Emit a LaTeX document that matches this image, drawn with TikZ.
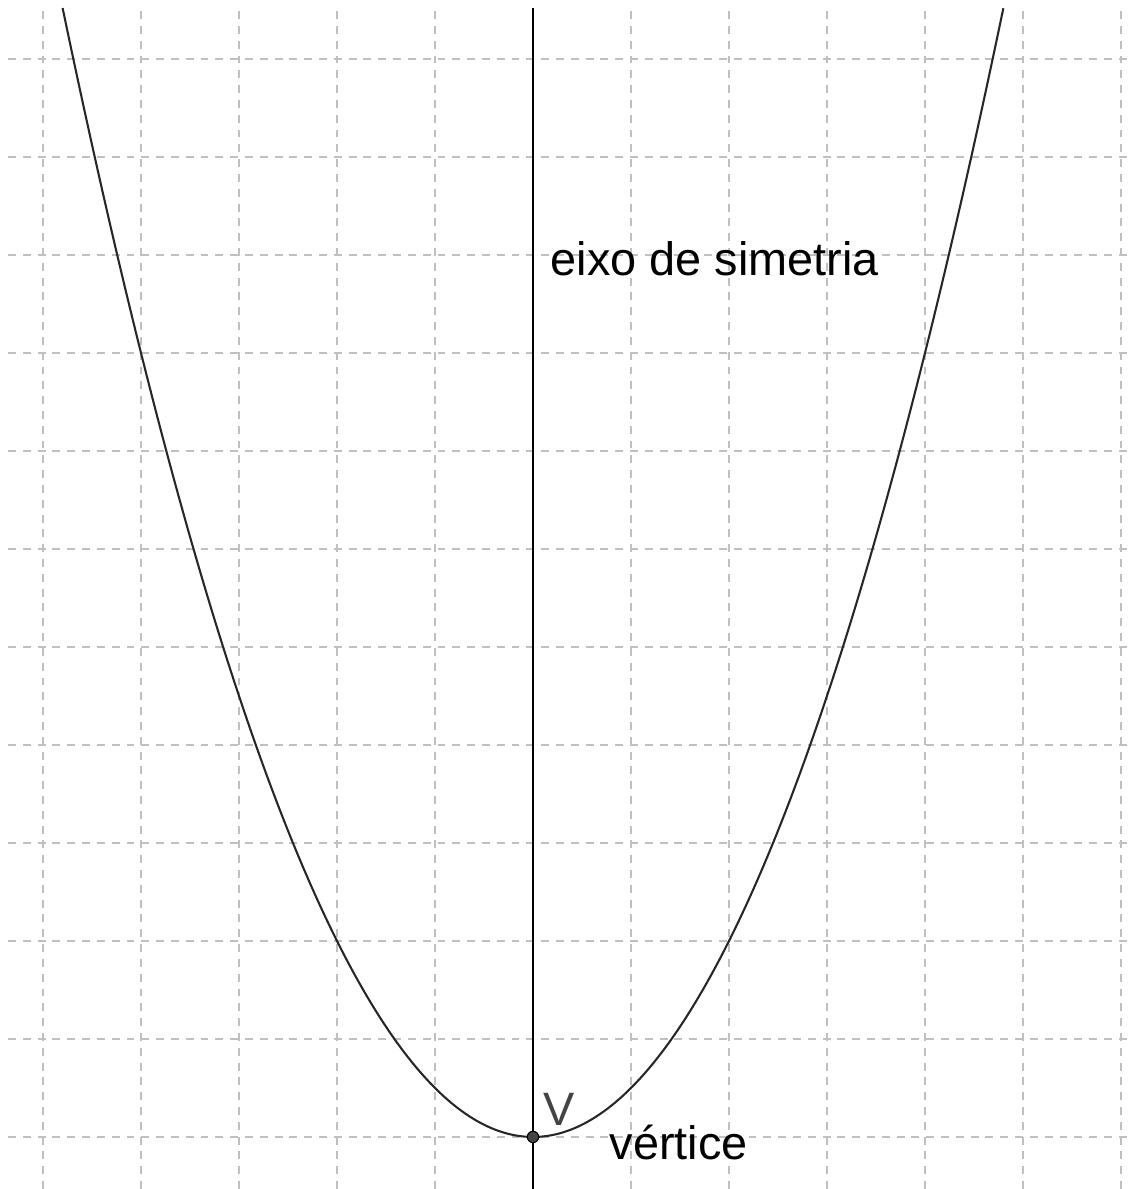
\documentclass[tikz,border=0pt]{standalone}
\usepackage{fontspec}
\setmainfont{Liberation Sans}
\definecolor{gridgray}{RGB}{192,192,192}
\definecolor{labelgray}{RGB}{68,68,68}
\tikzset{
  gridline/.style={gridgray,line width=0.35pt,dash pattern=on 2.3pt off 2pt},
  curveline/.style={black!85,line width=0.6pt},
  label/.style={inner sep=0pt,anchor=base west,font=\fontsize{13.6}{16}\selectfont}
}
\begin{document}
\begin{tikzpicture}
\useasboundingbox[fill=white] (-5.439,-0.531) rectangle (6.082,11.602);
\foreach \x in {-5,...,6} \draw[gridline] (\x,-0.531) -- (\x,11.52);
\foreach \y in {0,...,11} \draw[gridline] (-5.357,\y) -- (6.082,\y);
\coordinate (V) at (0,0);
\coordinate (axisbot) at (0,-0.531);
\coordinate (axistop) at (0,11.52);
\draw[black,line width=0.45pt] (axisbot) -- (axistop);
\draw[curveline,domain=-4.8:4.8,samples=161,smooth] plot (\x,{0.5*\x*\x});
\fill[labelgray] (V) circle (0.058);
\draw[black,line width=0.3pt] (V) circle (0.058);
\node[label,text=labelgray] (vlabel) at (0.10,0.122) {V};
\node[label] (vert) at (0.776,-0.235) {vértice};
\node[label] (eixo) at (0.173,8.786) {eixo de simetria};
\end{tikzpicture}
\end{document}
